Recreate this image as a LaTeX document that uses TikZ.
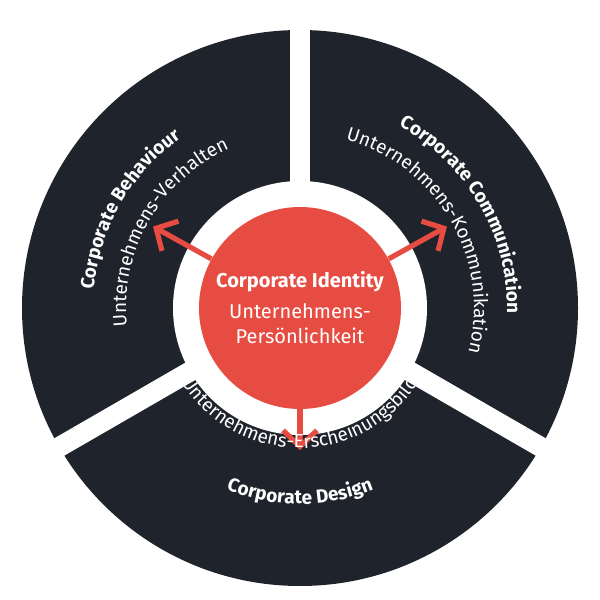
\documentclass[tikz,border=0pt]{standalone}
\usepackage{fontspec}
\setmainfont{Fira Sans}
\usetikzlibrary{arrows.meta,decorations.text,calc}
\definecolor{dark}{HTML}{1F232B}
\definecolor{cired}{HTML}{E64C41}
\begin{document}
\begin{tikzpicture}[x=0.5pt,y=0.5pt,
  gap/.style={white,line width=10pt},
  arr/.style={cired,line width=2.6pt,-{Straight Barb[length=8pt,width=17pt,line width=2.6pt]}},
  ctext/.style={decorate,decoration={text along path,text align=center,text color=white}}]
\useasboundingbox (0,0) rectangle (600,600);
\coordinate (c) at (300,292);
\fill[dark] (c) circle[radius=278];
\draw[gap] (c) -- ++(90:290);
\draw[gap] (c) -- ++(210:290);
\draw[gap] (c) -- ++(330:290);
\fill[white] (c) circle[radius=127];
\node[circle,fill=cired,minimum size=101pt,inner sep=0pt,text=white,align=center,font=\fontsize{10}{12.5}\selectfont] (ci) at (c)
  {\textbf{Corporate Identity}\\[3pt]Unternehmens-\\Persönlichkeit};
\coordinate (tl) at ($(c)+(151:168)$);
\coordinate (tr) at ($(c)+(29:168)$);
\coordinate (tb) at ($(c)+(270:142)$);
\draw[arr] (ci.151) -- (tl);
\draw[arr] (ci.29) -- (tr);
\draw[arr] (ci.270) -- (tb);
\path[ctext,decoration={text={|\fontsize{9.5}{12}\selectfont\bfseries|Corporate Behaviour}}]
  ($(c)+(205:207)$) arc[start angle=205,end angle=95,radius=207];
\path[ctext,decoration={text={|\fontsize{9.5}{12}\selectfont|Unternehmens-Verhalten}}]
  ($(c)+(205:174)$) arc[start angle=205,end angle=95,radius=174];
\path[ctext,decoration={text={|\fontsize{9.5}{12}\selectfont\bfseries|Corporate Communication}}]
  ($(c)+(85:207)$) arc[start angle=85,end angle=-25,radius=207];
\path[ctext,decoration={text={|\fontsize{9.5}{12}\selectfont|Unternehmens-Kommunikation}}]
  ($(c)+(85:174)$) arc[start angle=85,end angle=-25,radius=174];
\path[ctext,decoration={text={|\fontsize{9.5}{12}\selectfont|Unternehmens-Erscheinungsbild}}]
  ($(c)+(205:140)$) arc[start angle=205,end angle=335,radius=140];
\path[ctext,decoration={text={|\fontsize{9.5}{12}\selectfont\bfseries|Corporate Design}}]
  ($(c)+(220:196)$) arc[start angle=220,end angle=320,radius=196];
\end{tikzpicture}
\end{document}
